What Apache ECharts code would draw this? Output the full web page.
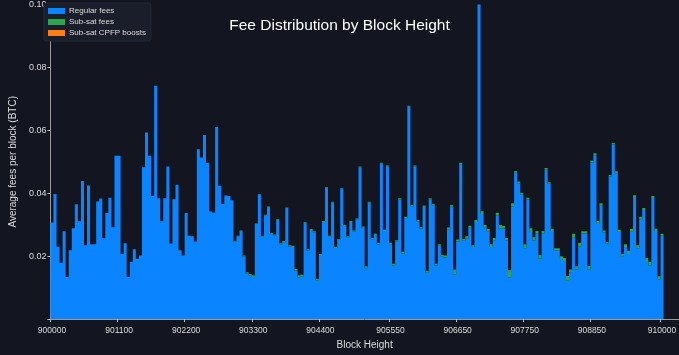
<!DOCTYPE html>
<html>
<head>
<meta charset="utf-8">
<script src="https://cdn.jsdelivr.net/npm/echarts@6/dist/echarts.min.js"></script>
<style>
html,body{margin:0;padding:0;background:#131620;}
#chart{width:679px;height:355px;}
</style>
</head>
<body>
<div id="chart"></div>
<script>
// Block height bins (step 50)
const blockHeights = [
900000,900050,900100,900150,900200,900250,900300,900350,900400,900450,
900500,900550,900600,900650,900700,900750,900800,900850,900900,900950,
901000,901050,901100,901150,901200,901250,901300,901350,901400,901450,
901500,901550,901600,901650,901700,901750,901800,901850,901900,901950,
902000,902050,902100,902150,902200,902250,902300,902350,902400,902450,
902500,902550,902600,902650,902700,902750,902800,902850,902900,902950,
903000,903050,903100,903150,903200,903250,903300,903350,903400,903450,
903500,903550,903600,903650,903700,903750,903800,903850,903900,903950,
904000,904050,904100,904150,904200,904250,904300,904350,904400,904450,
904500,904550,904600,904650,904700,904750,904800,904850,904900,904950,
905000,905050,905100,905150,905200,905250,905300,905350,905400,905450,
905500,905550,905600,905650,905700,905750,905800,905850,905900,905950,
906000,906050,906100,906150,906200,906250,906300,906350,906400,906450,
906500,906550,906600,906650,906700,906750,906800,906850,906900,906950,
907000,907050,907100,907150,907200,907250,907300,907350,907400,907450,
907500,907550,907600,907650,907700,907750,907800,907850,907900,907950,
908000,908050,908100,908150,908200,908250,908300,908350,908400,908450,
908500,908550,908600,908650,908700,908750,908800,908850,908900,908950,
909000,909050,909100,909150,909200,909250,909300,909350,909400,909450,
909500,909550,909600,909650,909700,909750,909800,909850,909900,909950,
910000
];

// Tick labels shown on the x axis
const tickLabels = ['900000','901100','902200','903300','904400','905550','906650','907750','908850','910000'];

// Regular fees (BTC, average per block)
const regularFees = [
0.0307,0.0398,0.0230,0.0179,0.0279,0.0134,0.0219,0.0289,0.0365,0.0311,
0.0439,0.0235,0.0425,0.0238,0.0238,0.0374,0.0383,0.0257,0.0337,0.0386,
0.0292,0.0519,0.0519,0.0207,0.0241,0.0134,0.0182,0.0222,0.0192,0.0202,
0.0483,0.0593,0.0519,0.0391,0.0742,0.0384,0.0311,0.0384,0.0485,0.0240,
0.0381,0.0427,0.0219,0.0202,0.0337,0.0265,0.0263,0.0247,0.0540,0.0514,
0.0585,0.0497,0.0342,0.0339,0.0611,0.0424,0.0366,0.0393,0.0391,0.0378,
0.0246,0.0263,0.0280,0.0199,0.0145,0.0139,0.0134,0.0302,0.0396,0.0261,
0.0330,0.0356,0.0271,0.0266,0.0315,0.0237,0.0244,0.0353,0.0231,0.0229,
0.0154,0.0133,0.0135,0.0306,0.0219,0.0283,0.0276,0.0122,0.0204,0.0309,
0.0417,0.0262,0.0371,0.0226,0.0252,0.0415,0.0296,0.0260,0.0309,0.0279,
0.0317,0.0482,0.0290,0.0162,0.0370,0.0254,0.0267,0.0238,0.0494,0.0280,
0.0485,0.0238,0.0170,0.0247,0.0381,0.0208,0.0321,0.0675,0.0359,0.0485,
0.0311,0.0287,0.0357,0.0147,0.0381,0.0362,0.0170,0.0233,0.0198,0.0196,
0.0284,0.0358,0.0142,0.0247,0.0493,0.0249,0.0256,0.0290,0.0229,0.0309,
0.1195,0.0334,0.0292,0.0279,0.0229,0.0251,0.0329,0.0288,0.0288,0.0251,
0.0133,0.0359,0.0465,0.0431,0.0396,0.0225,0.0380,0.0277,0.0250,0.0271,
0.0192,0.0273,0.0475,0.0430,0.0280,0.0219,0.0219,0.0191,0.0185,0.0122,
0.0149,0.0259,0.0158,0.0231,0.0272,0.0272,0.0157,0.0498,0.0521,0.0302,
0.0360,0.0275,0.0240,0.0453,0.0555,0.0464,0.0277,0.0198,0.0229,0.0207,
0.0278,0.0388,0.0225,0.0316,0.0347,0.0185,0.0171,0.0385,0.0280,0.0127,
0.0265
];

// Sub-sat fees (BTC)
const subSatFees = [
0,0,0,0,0,0,0,0,0,0,
0,0,0,0,0,0,0,0,0,0,
0,0,0,0,0,0,0,0,0,0,
0,0,0,0,0,0,0,0,0,0,
0,0,0,0,0,0,0,0,0,0,
0,0,0,0,0,0,0,0,0,0,
0.0002,0.0002,0.0002,0.0003,0.0004,0.0004,0.0005,0.0002,0.0002,0.0002,
0.0002,0.0002,0.0003,0.0003,0.0002,0.0004,0.0004,0.0002,0.0004,0.0004,
0.0005,0.0006,0.0006,0.0003,0.0003,0.0003,0.0003,0.0006,0.0003,0.0003,
0.0002,0.0003,0.0002,0.0004,0.0003,0.0002,0.0003,0.0003,0.0003,0.0003,
0.0003,0.0003,0.0004,0.0006,0.0003,0.0004,0.0004,0.0005,0.0003,0.0004,
0.0003,0.0005,0.0006,0.0004,0.0003,0.0006,0.0004,0.0003,0.0004,0.0003,
0.0004,0.0005,0.0004,0.0007,0.0003,0.0004,0.0006,0.0005,0.0006,0.0006,
0.0007,0.0005,0.0016,0.0006,0.0004,0.0006,0.0007,0.0007,0.0006,0.0006,
0.0005,0.0009,0.0007,0.0007,0.0009,0.0007,0.0009,0.0011,0.0009,0.0007,
0.0022,0.0009,0.0006,0.0006,0.0005,0.0013,0.0006,0.0012,0.0010,0.0009,
0.0012,0.0007,0.0005,0.0005,0.0007,0.0006,0.0006,0.0009,0.0009,0.0015,
0.0009,0.0012,0.0010,0.0012,0.0007,0.0007,0.0012,0.0006,0.0006,0.0010,
0.0008,0.0007,0.0005,0.0005,0.0005,0.0006,0.0007,0.0009,0.0009,0.0010,
0.0009,0.0006,0.0010,0.0009,0.0006,0.0009,0.0011,0.0006,0.0007,0.0009,
0.0006
];

// Sub-sat CPFP boosts (BTC) - not visible at this scale
const cpfpBoosts = [
0,0,0,0,0,0,0,0,0,0,0,0,0,0,0,0,0,0,0,0,
0,0,0,0,0,0,0,0,0,0,0,0,0,0,0,0,0,0,0,0,
0,0,0,0,0,0,0,0,0,0,0,0,0,0,0,0,0,0,0,0,
0,0,0,0,0,0,0,0,0,0,0,0,0,0,0,0,0,0,0,0,
0,0,0,0,0,0,0,0,0,0,0,0,0,0,0,0,0,0,0,0,
0,0,0,0,0,0,0,0,0,0,0,0,0,0,0,0,0,0,0,0,
0,0,0,0,0,0,0,0,0,0,0,0,0,0,0,0,0,0,0,0,
0,0,0,0,0,0,0,0,0,0,0,0,0,0,0,0,0,0,0,0,
0,0,0,0,0,0,0,0,0,0,0,0,0,0,0,0,0,0,0,0,
0,0,0,0,0,0,0,0,0,0,0,0,0,0,0,0,0,0,0,0,
0
];

const yTicks = [0.02, 0.04, 0.06, 0.08, 0.10];

const chart = echarts.init(document.getElementById('chart'), null, {renderer: 'canvas'});
const labelSet = new Set(tickLabels);
const font = '"Liberation Sans", Arial, sans-serif';
const BLUE = '#0A84FF', GREEN = '#2DA44E', ORANGE = '#FD7E14';

chart.setOption({
  backgroundColor: '#131620',
  animation: false,
  title: {
    text: 'Fee Distribution by Block Height',
    left: 'center',
    top: 13,
    textStyle: {color: '#ffffff', fontSize: 15.5, fontWeight: 'normal', fontFamily: font}
  },
  legend: {
    orient: 'vertical',
    left: 44,
    top: 3,
    padding: [4, 5, 4, 4],
    itemWidth: 17,
    itemHeight: 6,
    itemGap: 3,
    icon: 'rect',
    backgroundColor: '#1a1e2b',
    borderColor: '#232838',
    borderWidth: 1,
    borderRadius: 2,
    itemStyle: {borderWidth: 0},
    textStyle: {color: '#dddddd', fontSize: 8, fontFamily: font, padding: [0, 0, 0, -1]},
    data: ['Regular fees', 'Sub-sat fees', 'Sub-sat CPFP boosts']
  },
  grid: {left: 42, right: 0, top: 0.5, bottom: 29, containLabel: false},
  xAxis: {
    type: 'category',
    data: blockHeights.map(String),
    max: 205,
    boundaryGap: true,
    name: 'Block Height',
    nameLocation: 'middle',
    nameGap: 17,
    nameTextStyle: {color: '#dddddd', fontSize: 10, fontFamily: font},
    axisLine: {lineStyle: {color: '#9a9a9a', width: 1}},
    axisTick: {
      show: true, length: 3, lineStyle: {color: '#bbbbbb'},
      interval: (i, v) => labelSet.has(v)
    },
    axisLabel: {
      color: '#dddddd', fontSize: 8.5, fontFamily: font, margin: 7,
      interval: (i, v) => labelSet.has(v),
      formatter: v => (labelSet.has(v) ? v : '')
    },
    splitLine: {show: false}
  },
  yAxis: {
    type: 'value',
    min: 0,
    max: 0.1,
    interval: 0.02,
    name: 'Average fees per block (BTC)',
    nameLocation: 'middle',
    nameGap: 28,
    nameTextStyle: {color: '#dddddd', fontSize: 10, fontFamily: font},
    axisLine: {show: true, lineStyle: {color: '#9a9a9a', width: 1}},
    axisTick: {show: true, length: 3, lineStyle: {color: '#bbbbbb'}},
    axisLabel: {
      color: '#dddddd', fontSize: 9, fontFamily: font, margin: 4,
      formatter: v => (yTicks.some(t => Math.abs(t - v) < 1e-9) ? v.toFixed(2) : '')
    },
    splitLine: {show: false}
  },
  series: [
    {name: 'Regular fees', type: 'bar', stack: 'fees', data: regularFees, barWidth: '100%', barCategoryGap: '0%',
     large: true, largeThreshold: 50, itemStyle: {color: BLUE}},
    {name: 'Sub-sat fees', type: 'bar', stack: 'fees', data: subSatFees, barWidth: '100%',
     large: true, largeThreshold: 50, itemStyle: {color: GREEN}},
    {name: 'Sub-sat CPFP boosts', type: 'bar', stack: 'fees', data: cpfpBoosts, barWidth: '100%',
     large: true, largeThreshold: 50, itemStyle: {color: ORANGE}}
  ]
});
</script>
</body>
</html>
